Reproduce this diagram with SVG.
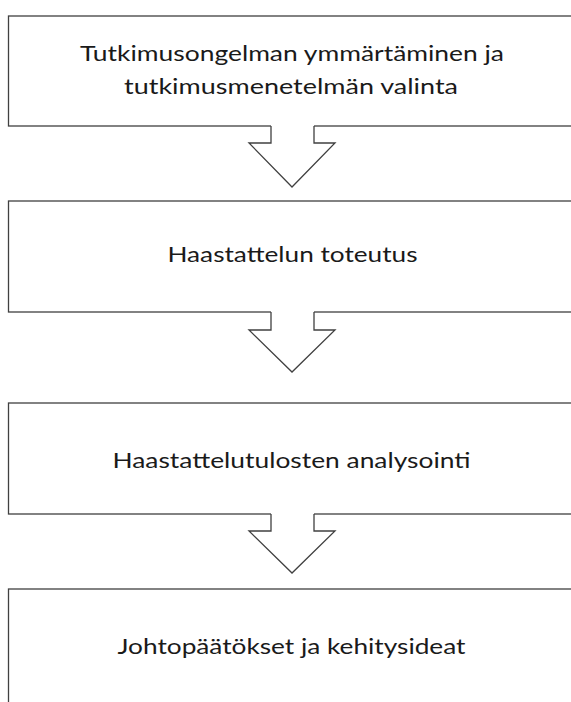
<svg xmlns="http://www.w3.org/2000/svg" width="571" height="702" viewBox="0 0 571 702">
<style>
.box{fill:#fff;stroke:#404040;stroke-width:1.3}
.arrow-fill{fill:#fff;stroke:none}
.arrow{fill:none;stroke:#404040;stroke-width:1.3;stroke-linejoin:miter}
.lbl{font-family:Lato,"Open Sans","Liberation Sans",sans-serif;font-size:22px;fill:#1a1a1a}
</style>
<rect width="571" height="702" fill="#fff"/>
<g id="node1">
<rect class="box" x="8.5" y="16" width="600" height="110"/>
<text class="lbl" x="80" y="61" textLength="424" lengthAdjust="spacingAndGlyphs">Tutkimusongelman ymmärtäminen ja</text>
<text class="lbl" x="124" y="94" textLength="334" lengthAdjust="spacingAndGlyphs">tutkimusmenetelmän valinta</text>
</g>
<g id="node2">
<rect class="box" x="8.5" y="201" width="600" height="111"/>
<text class="lbl" x="167.5" y="262" textLength="250" lengthAdjust="spacingAndGlyphs">Haastattelun toteutus</text>
</g>
<g id="node3">
<rect class="box" x="8.5" y="403" width="600" height="111"/>
<text class="lbl" x="112.5" y="468" textLength="358" lengthAdjust="spacingAndGlyphs">Haastattelutulosten analysointi</text>
</g>
<g id="node4">
<rect class="box" x="8.5" y="589" width="600" height="130"/>
<text class="lbl" x="117.5" y="654" textLength="348" lengthAdjust="spacingAndGlyphs">Johtopäätökset ja kehitysideat</text>
</g>
<g id="connectors">
<polygon class="arrow-fill" points="271,124 314,124 314,143 335,143 292,187 249,143 271,143"/>
<path class="arrow" d="M271,126 V143 H249 L292,187 L335,143 H314 V126"/>
<polygon class="arrow-fill" points="271,310 314,310 314,330 335,330 292,372 249,330 271,330"/>
<path class="arrow" d="M271,312 V330 H249 L292,372 L335,330 H314 V312"/>
<polygon class="arrow-fill" points="271,512 314,512 314,531 335,531 292,573 249,531 271,531"/>
<path class="arrow" d="M271,514 V531 H249 L292,573 L335,531 H314 V514"/>
</g>
</svg>
